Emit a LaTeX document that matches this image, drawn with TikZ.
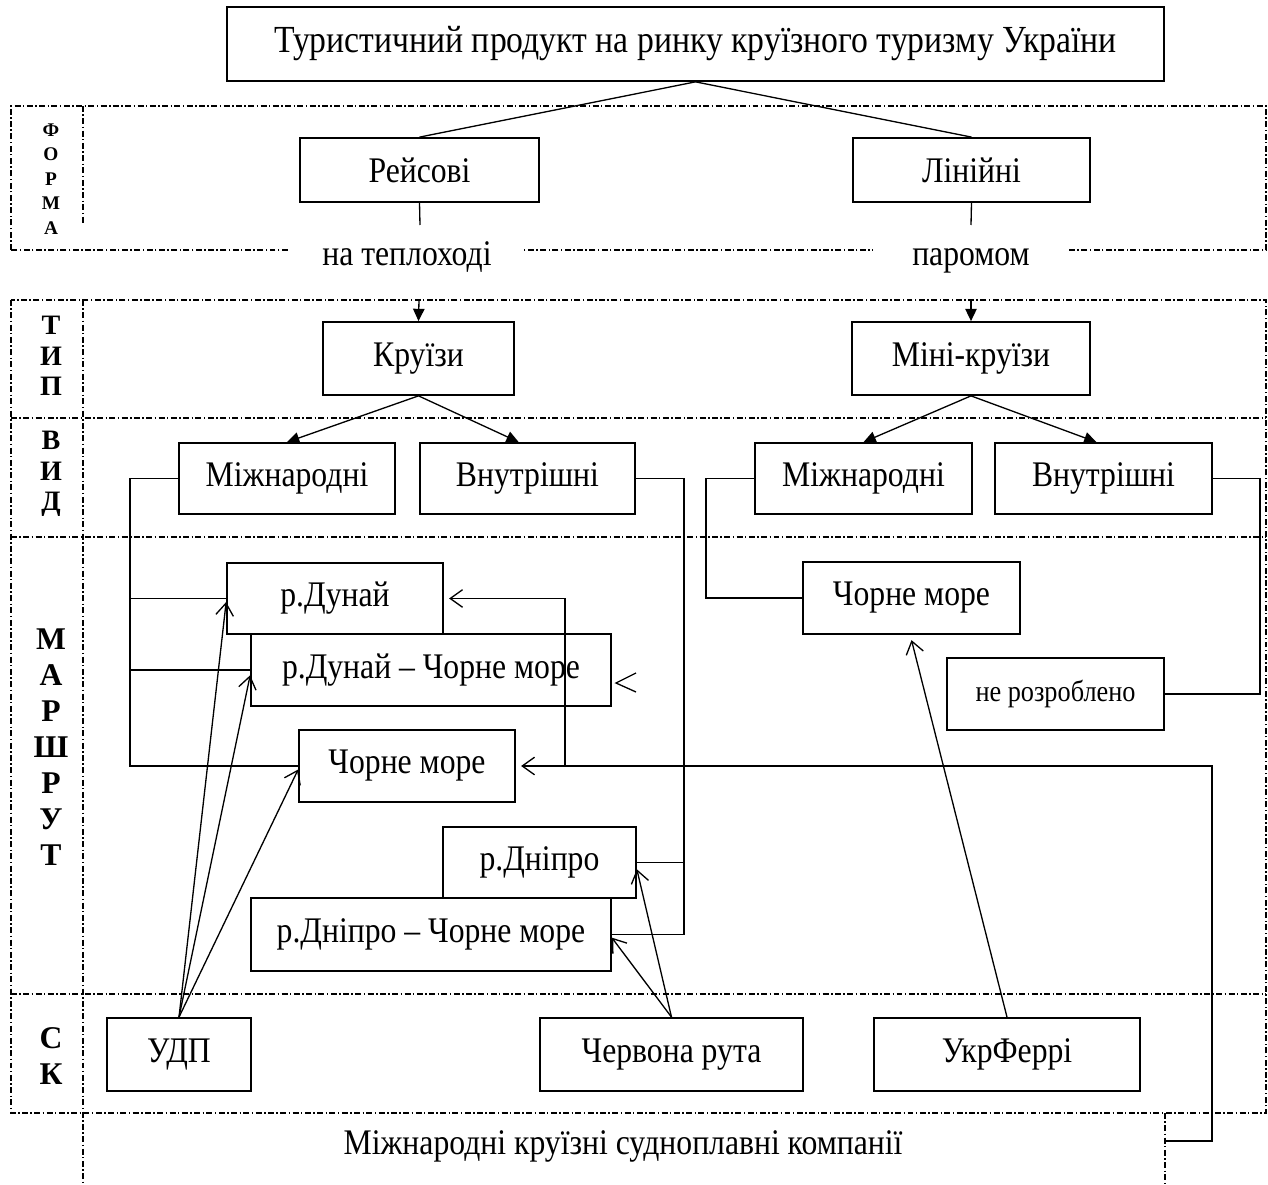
\documentclass[tikz,border=0pt]{standalone}
\usepackage{fontspec}
\setmainfont{Liberation Serif}[FakeStretch=0.88]
\newfontfamily\lblfont{Liberation Serif}
\usepackage{tikz}
\usetikzlibrary{arrows.meta, calc}

\begin{document}
\begin{tikzpicture}[
    x=0.02cm, y=-0.02cm,
    blok/.style={rectangle, draw, line width=1pt, inner sep=2pt, align=center, font=\fontsize{20.5}{24}\selectfont},
    txt/.style={inner sep=2pt, font=\fontsize{20.5}{24}\selectfont},
    lbl/.style={inner sep=0pt, align=center, font=\lblfont\bfseries\fontsize{18}{20.5}\selectfont},
    frame/.style={line width=0.8pt, dash pattern=on 3.4pt off 1.4pt on 0.8pt off 1.4pt},
    line/.style={line width=0.75pt},
    tri/.style={-{Triangle[length=7pt,width=6.5pt]}, line width=0.75pt},
    barb/.style={-{Straight Barb[length=7pt,width=10pt]}, line width=0.75pt},
]
\useasboundingbox (0,0) rectangle (1268,1185);

% frames
\draw[frame] (11,250) -- (11,106) -- (1266,106) -- (1266,250) -- cycle;
\draw[frame] (83,106) -- (83,223);
\draw[frame] (11,300) rectangle (1266,1113);
\foreach \yy in {418,537,994}
    \draw[frame] (11,\yy) -- (1266,\yy);
\draw[frame] (83,300) -- (83,1185);
\draw[frame] (1165,1113) -- (1165,1185);

% left column
\node[lbl, font=\lblfont\bfseries\fontsize{11}{14}\selectfont] (forma) at (51,179) {Ф\\О\\Р\\М\\А};
\node[lbl, font=\lblfont\bfseries\fontsize{16}{17.4}\selectfont] (typ) at (51,356) {Т\\И\\П};
\node[lbl, font=\lblfont\bfseries\fontsize{16}{17.4}\selectfont] (vyd) at (51,474) {В\\И\\Д};
\node[lbl] (marshrut) at (51,747) {М\\А\\Р\\Ш\\Р\\У\\Т};
\node[lbl] (sk) at (51,1056) {С\\К};

% top levels
\node[blok, minimum width=18.74cm, minimum height=1.48cm, font=\fontsize{21.8}{25}\selectfont] (title) at (695.5,44) {Туристичний продукт на ринку круїзного туризму України};
\node[blok, minimum width=4.78cm, minimum height=1.28cm] (rs) at (419.5,170) {Рейсові};
\node[blok, minimum width=4.74cm, minimum height=1.28cm] (ln) at (971.5,170) {Лінійні};
\node[txt, fill=white, inner xsep=0.64cm, anchor=base] (teplo) at (407,266) {на теплоході};
\node[txt, fill=white, inner xsep=0.78cm, anchor=base] (parom) at (971,266) {паромом};
\coordinate (rsend) at (420,225);
\coordinate (lnend) at (971,225);
\coordinate (krtop) at (419,300);
\coordinate (mkrtop) at (971,300);

\node[blok, minimum width=3.82cm, minimum height=1.46cm] (kr) at (418.5,358.5) {Круїзи};
\node[blok, minimum width=4.76cm, minimum height=1.46cm] (mkr) at (971,358.5) {Міні-круїзи};

\node[blok, minimum width=4.32cm, minimum height=1.42cm] (mzl) at (287,478.5) {Міжнародні};
\node[blok, minimum width=4.30cm, minimum height=1.42cm] (vnl) at (527.5,478.5) {Внутрішні};
\node[blok, minimum width=4.34cm, minimum height=1.42cm] (mzr) at (863.5,478.5) {Міжнародні};
\node[blok, minimum width=4.34cm, minimum height=1.42cm] (vnr) at (1103.5,478.5) {Внутрішні};

% routes
\node[blok, minimum width=4.32cm, minimum height=1.42cm] (dn) at (335,598.5) {р.Дунай};
\node[blok, minimum width=7.2cm, minimum height=1.44cm] (dcm) at (431,670) {р.Дунай -- Чорне море};
\node[blok, minimum width=4.32cm, minimum height=1.44cm] (chl) at (407,766) {Чорне море};
\node[blok, minimum width=3.86cm, minimum height=1.42cm] (dp) at (539.5,862.5) {р.Дніпро};
\node[blok, minimum width=7.2cm, minimum height=1.46cm] (dcp) at (431,934.5) {р.Дніпро -- Чорне море};
\node[blok, minimum width=4.34cm, minimum height=1.44cm] (chr) at (911.5,598) {Чорне море};
\node[blok, minimum width=4.34cm, minimum height=1.44cm, font=\fontsize{17}{20}\selectfont] (nr) at (1055.5,694) {не розроблено};

% companies
\node[blok, minimum width=2.88cm, minimum height=1.46cm] (udp) at (179,1054.5) {УДП};
\node[blok, minimum width=5.26cm, minimum height=1.46cm] (crn) at (671.5,1054.5) {Червона рута};
\node[blok, minimum width=5.32cm, minimum height=1.46cm] (ukf) at (1007,1054.5) {УкрФеррі};
\node[txt] (mkk) at (623,1146) {Міжнародні круїзні судноплавні компанії};
\coordinate (mkkend) at (1165,1141);

% connectors
\draw[line] (title.south) -- (rs.north);
\draw[line] (title.south) -- (ln.north);
\draw[line] (rs.south) -- (rsend);
\draw[line] (ln.south) -- (lnend);
\draw[tri] (krtop) -- (kr.north);
\draw[tri] (mkrtop) -- (mkr.north);
\draw[tri] (kr.south) -- (mzl.north);
\draw[tri] (kr.south) -- ([xshift=-5]vnl.north);
\draw[tri] (mkr.south) -- (mzr.north);
\draw[tri] (mkr.south) -- ([xshift=-4]vnr.north);

\draw[line] (mzl.west) -- ++(-48,0) coordinate (lv) |- (chl.west);
\draw[line] (dn.west) -- (dn.west -| lv);
\draw[line] (dcm.west) -- (dcm.west -| lv);
\draw[line] (vnl.east) -- ++(48,0) coordinate (rv) |- (dcp.east);
\draw[line] (dp.east) -- (dp.east -| rv);
\draw[line] (mzr.west) -- ++(-48,0) |- (chr.west);
\draw[line] (vnr.east) -- ++(47,0) |- (nr.east);

\draw[barb] (mkkend) -- ++(47,0) |- ([xshift=3]chl.east);
\coordinate (jn) at (565,766);
\draw[barb] (jn) |- ([xshift=3]dn.east);
\coordinate (dcmtip) at (616,683);
\draw[line] (dcmtip) ++(20,-10) -- (dcmtip) -- ++(20,9);

\draw[barb] (udp.north) -- ([yshift=-2]dn.west);
\draw[barb] (udp.north) -- ([yshift=-3]dcm.west);
\draw[barb] (udp.north) -- ([yshift=-2]chl.west);
\draw[barb] (crn.north) -- (dp.-4);
\draw[barb] (crn.north) -- (dcp.-1);
\draw[barb] (ukf.north) -- ([yshift=-3]chr.south);

\end{tikzpicture}
\end{document}
